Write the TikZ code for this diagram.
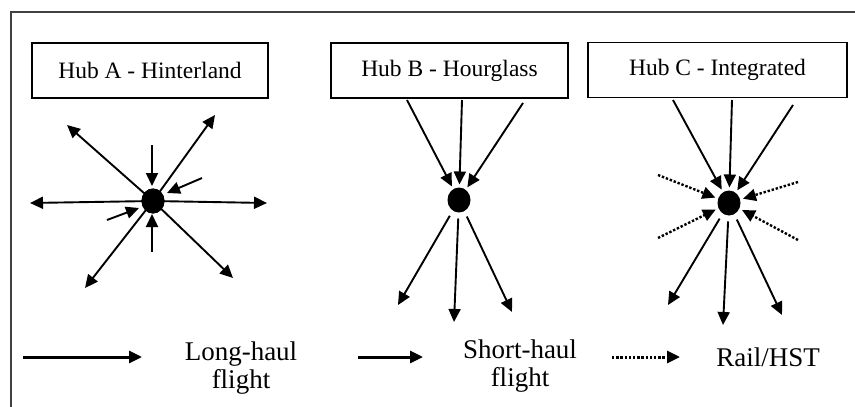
\documentclass[tikz,border=0pt]{standalone}
\usepackage{fontspec}
\setmainfont{Liberation Serif}
\usetikzlibrary{arrows.meta,shapes.geometric}
\begin{document}
\begin{tikzpicture}[x=1pt,y=-1pt,
  hubbox/.style={draw, line width=1.6pt, minimum height=55pt, inner sep=0pt, font=\fontsize{23.5}{26}\selectfont},
  hubdot/.style={ellipse, fill=black, minimum width=23pt, minimum height=25pt, inner sep=0pt, outer sep=3pt},
  arr/.style={-{Triangle[length=13pt,width=12pt]}, line width=1.9pt},
  darr/.style={arr, dash pattern=on 2.4pt off 1.8pt, line width=2.4pt},
  legarr/.style={-{Triangle[length=13pt,width=12pt]}, line width=3pt},
  legdarr/.style={legarr, dash pattern=on 2.4pt off 1.8pt},
  legtext/.style={align=center, font=\fontsize{27}{28}\selectfont, inner sep=0pt}]
\useasboundingbox (0,0) rectangle (855,407);
% frame
\draw[line width=2.2pt, black!75] (11,407) -- (11,12) -- (855,12);
% boxes
\node[hubbox, minimum width=236pt] (boxA) at (150,70.5) {Hub A - Hinterland};
\node[hubbox, minimum width=237pt] (boxB) at (449.5,70.5) {Hub B - Hourglass};
\node[hubbox, minimum width=259pt] (boxC) at (717.5,70) {Hub C - Integrated};
% dots
\node[hubdot] (dotA) at (153,201) {};
\node[hubdot] (dotB) at (459,200) {};
\node[hubdot] (dotC) at (729,203) {};
% ---------- Hub A ----------
\coordinate (aUL) at (67,125);
\coordinate (aUR) at (215,115);
\coordinate (aL) at (30,203);
\coordinate (aR) at (267,203);
\coordinate (aDL) at (85,288);
\coordinate (aDR) at (233,278);
\coordinate (aInT) at (152,145);
\coordinate (aInB) at (152,252);
\coordinate (aInR) at (202,178);
\coordinate (aInL) at (107,220);
\foreach \t in {aUL,aUR,aL,aR,aDL,aDR}
  \draw[arr] (dotA.center) -- (\t);
\draw[arr] (aInT) -- (152,186);
\draw[arr] (aInB) -- (152,214);
\draw[arr] (aInR) -- (167,193);
\draw[arr] (aInL) -- (139,208);
\node[hubdot] at (dotA) {};
% ---------- Hub B ----------
\coordinate (bS1) at (407,100);
\coordinate (bS2) at (462,100);
\coordinate (bS3) at (523,103);
\coordinate (bT1) at (398,305);
\coordinate (bT2) at (454,322);
\coordinate (bT3) at (512,312);
\draw[arr] (bS1) -- (dotB);
\draw[arr] (bS2) -- (dotB);
\draw[arr] (bS3) -- (dotB);
\draw[arr, shorten <=3pt] (dotB) -- (bT1);
\draw[arr, shorten <=3pt] (dotB) -- (bT2);
\draw[arr, shorten <=3pt] (dotB) -- (bT3);
% ---------- Hub C ----------
\coordinate (cS1) at (673,100);
\coordinate (cS2) at (732,100);
\coordinate (cS3) at (793,105);
\coordinate (cD1) at (658,175);
\coordinate (cD2) at (798,182);
\coordinate (cD3) at (658,238);
\coordinate (cD4) at (798,240);
\coordinate (cT1) at (668,305);
\coordinate (cT2) at (723,325);
\coordinate (cT3) at (782,315);
\draw[arr] (cS1) -- (dotC);
\draw[arr] (cS2) -- (dotC);
\draw[arr] (cS3) -- (dotC);
\foreach \s in {cD1,cD2,cD3,cD4}
  \draw[darr] (\s) -- (dotC);
\draw[arr, shorten <=3pt] (dotC) -- (cT1);
\draw[arr, shorten <=3pt] (dotC) -- (cT2);
\draw[arr, shorten <=3pt] (dotC) -- (cT3);
% ---------- Legend ----------
\coordinate (l1a) at (23,357);
\coordinate (l1b) at (142,357);
\coordinate (l2a) at (358,357);
\coordinate (l2b) at (423,357);
\coordinate (l3a) at (612,357);
\coordinate (l3b) at (680,357);
\draw[legarr] (l1a) -- (l1b);
\draw[legarr] (l2a) -- (l2b);
\draw[legdarr] (l3a) -- (l3b);
\node[legtext] (lt1) at (241,368) {Long-haul\\flight};
\node[legtext] (lt2) at (520,366) {Short-haul\\flight};
\node[legtext] (lt3) at (768,357) {Rail/HST};
\end{tikzpicture}
\end{document}
